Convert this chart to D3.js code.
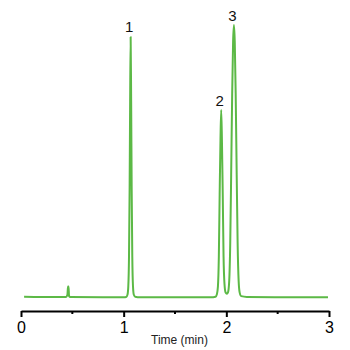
<!DOCTYPE html>
<html>
<head>
<meta charset="utf-8">
<script src="https://cdn.jsdelivr.net/npm/d3@7"></script>
<style>
  body { margin: 0; background: #fff; }
  svg { display: block; font-family: Arial, "Liberation Sans", sans-serif; }
</style>
</head>
<body>
<div class="chart"></div>
<script>
var width = 350
  , height = 350
  ;

// chromatogram trace: [time (min), signal]
var trace = [
  [0.03, 0.3], [0.2, 0.2], [0.44, 0.2], [0.452, 1], [0.458, 4], [0.463, 4], [0.468, 0.5], [0.48, 0.2],
  [0.8, 0.1], [1.0, 0.1], [1.025, 0.2], [1.037, 1], [1.045, 4], [1.052, 15], [1.058, 40],
  [1.063, 72], [1.068, 95.6], [1.073, 72], [1.078, 40], [1.084, 15], [1.091, 4], [1.099, 1],
  [1.112, 0.3], [1.16, 0.1], [1.5, 0.1], [1.85, 0.1], [1.895, 0.3], [1.908, 1.2], [1.918, 4],
  [1.927, 15], [1.935, 38], [1.943, 58], [1.95, 68.8], [1.957, 58], [1.965, 38], [1.973, 15],
  [1.982, 5], [1.993, 1.8], [2.005, 1.4], [2.017, 2], [2.028, 6], [2.038, 20], [2.047, 45],
  [2.057, 75], [2.066, 94], [2.074, 100], [2.082, 94], [2.091, 75], [2.101, 45], [2.11, 20],
  [2.12, 6], [2.13, 1.8], [2.145, 0.5], [2.2, 0.2], [2.6, 0.1], [2.99, 0.1]
];

var peakLabels = ["1", "2", "3"];
var peakTimes = [1.068, 1.95, 2.074];
var peakHeights = [95.6, 68.8, 100];

var majorTicks = [0, 1, 2, 3];
var minorTicks = [0.5, 1.5, 2.5];

var svg = d3.select(".chart").append("svg")
  .attr("width", width)
  .attr("height", height);

var x = d3.scaleLinear().domain([0, 3]).range([21, 329]);
var y = d3.scaleLinear().domain([0, 100]).range([297.5, 25]);

var axisY = 311;

// axis
var axis = svg.append("g")
  .attr("transform", "translate(0," + axisY + ")")
  .call(d3.axisBottom(x)
    .tickValues(majorTicks)
    .tickFormat(d3.format("d"))
    .tickSize(6)
    .tickSizeOuter(0)
    .tickPadding(5));

axis.select(".domain").attr("stroke", "#000").attr("stroke-width", 2);
axis.selectAll(".tick line").attr("stroke", "#000").attr("stroke-width", 2);
axis.selectAll(".tick text")
  .attr("fill", "#000")
  .attr("font-size", 16)
  .attr("font-family", "Arial, 'Liberation Sans', sans-serif");

svg.append("g")
  .selectAll("line")
  .data(minorTicks)
  .enter().append("line")
    .attr("x1", function(d) { return x(d); })
    .attr("x2", function(d) { return x(d); })
    .attr("y1", axisY)
    .attr("y2", axisY + 3)
    .attr("stroke", "#000")
    .attr("stroke-width", 2);

svg.append("text")
  .attr("x", 179.5)
  .attr("y", 343.5)
  .attr("text-anchor", "middle")
  .attr("font-size", 12)
  .attr("fill", "#222")
  .text("Time (min)");

// trace
var line = d3.line()
  .x(function(d) { return x(d[0]); })
  .y(function(d) { return y(d[1]); })
  .curve(d3.curveMonotoneX);

svg.append("path")
  .datum(trace)
  .attr("fill", "none")
  .attr("stroke", "#5cb946")
  .attr("stroke-width", 2)
  .attr("stroke-linejoin", "round")
  .attr("d", line);

// peak numbers
svg.append("g")
  .selectAll("text")
  .data(peakLabels)
  .enter().append("text")
    .attr("x", function(d, i) { return x(peakTimes[i]) - 1.5; })
    .attr("y", function(d, i) { return y(peakHeights[i]) - 4.5; })
    .attr("text-anchor", "middle")
    .attr("font-size", 15)
    .attr("fill", "#111")
    .text(function(d) { return d; });
</script>
</body>
</html>
